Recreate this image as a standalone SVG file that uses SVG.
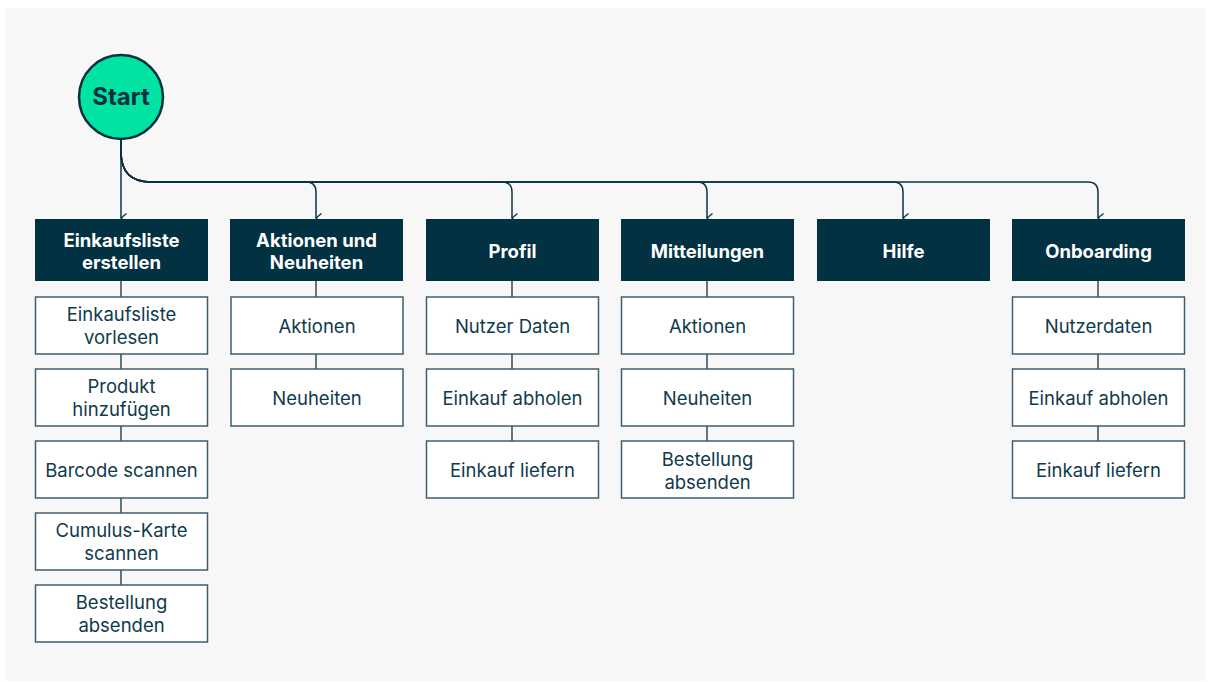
<svg xmlns="http://www.w3.org/2000/svg" width="1210" height="682" viewBox="0 0 1210 682">
  <defs>
    <style>
      .bg { fill: #ffffff; }
      .panel { fill: #f7f7f7; }
      .head rect { fill: #023142; }
      .head text { fill: #ffffff; font-family: Inter, "Liberation Sans", sans-serif; font-size: 18.5px; font-weight: 700; text-anchor: middle; }
      .item rect { fill: #ffffff; stroke: #3f5f70; stroke-width: 1.5; }
      .item text { fill: #0f3a4b; font-family: Inter, "Liberation Sans", sans-serif; font-size: 18.5px; font-weight: 400; text-anchor: middle; }
      .start circle { fill: #00e3a2; stroke: #05303f; stroke-width: 2.5; }
      .start text { fill: #05303f; font-family: Inter, "Liberation Sans", sans-serif; font-size: 24px; font-weight: 700; text-anchor: middle; }
      .edge { fill: none; stroke: #0b3445; stroke-width: 1.5; }
      .link { fill: none; stroke: #0b3445; stroke-width: 1.3; }
    </style>
    <marker id="arrow" markerUnits="userSpaceOnUse" markerWidth="12" markerHeight="10" refX="6" refY="8" orient="auto-start-reverse" viewBox="0 0 12 10">
      <path d="M1.5,2.5 L6,8 L10.5,2.5" fill="none" stroke="#0b3445" stroke-width="1.3"/>
    </marker>
  </defs>

  <rect class="bg" x="0" y="0" width="1210" height="682"/>
  <rect class="panel" x="5" y="8" width="1200" height="673"/>

  <!-- connectors: start to each section, and the chains inside each column -->
  <g id="connectors">
    <path class="edge" d="M121,139 V218" marker-end="url(#arrow)"/>
    <path class="edge" d="M121,139 V152 Q121,182 151,182 H306 Q316,182 316,192 V218" marker-end="url(#arrow)"/>
    <path class="edge" d="M121,139 V152 Q121,182 151,182 H502 Q512,182 512,192 V218" marker-end="url(#arrow)"/>
    <path class="edge" d="M121,139 V152 Q121,182 151,182 H697 Q707,182 707,192 V218" marker-end="url(#arrow)"/>
    <path class="edge" d="M121,139 V152 Q121,182 151,182 H893 Q903,182 903,192 V218" marker-end="url(#arrow)"/>
    <path class="edge" d="M121,139 V152 Q121,182 151,182 H1088 Q1098,182 1098,192 V218" marker-end="url(#arrow)"/>

    <path class="link" d="M121,281 V297 M121,354 V369 M121,426 V441 M121,498 V513 M121,570 V585"/>
    <path class="link" d="M316,281 V297 M316,354 V369"/>
    <path class="link" d="M512,281 V297 M512,354 V369 M512,426 V441"/>
    <path class="link" d="M707,281 V297 M707,354 V369 M707,426 V441"/>
    <path class="link" d="M1098,281 V297 M1098,354 V369 M1098,426 V441"/>
  </g>

  <g id="start" class="start">
    <circle cx="121" cy="97" r="42"/>
    <text x="121" y="105">Start</text>
  </g>

  <!-- section headers -->
  <g id="h-einkaufsliste" class="head">
    <rect x="35" y="219" width="173" height="62"/>
    <text x="121.5" y="247">Einkaufsliste</text>
    <text x="121.5" y="269">erstellen</text>
  </g>
  <g id="h-aktionen" class="head">
    <rect x="230" y="219" width="173" height="62"/>
    <text x="316.5" y="247">Aktionen und</text>
    <text x="316.5" y="269">Neuheiten</text>
  </g>
  <g id="h-profil" class="head">
    <rect x="426" y="219" width="173" height="62"/>
    <text x="512.5" y="258">Profil</text>
  </g>
  <g id="h-mitteilungen" class="head">
    <rect x="621" y="219" width="173" height="62"/>
    <text x="707.5" y="258">Mitteilungen</text>
  </g>
  <g id="h-hilfe" class="head">
    <rect x="817" y="219" width="173" height="62"/>
    <text x="903.5" y="258">Hilfe</text>
  </g>
  <g id="h-onboarding" class="head">
    <rect x="1012" y="219" width="173" height="62"/>
    <text x="1098.5" y="258">Onboarding</text>
  </g>

  <!-- column 1 -->
  <g id="e-vorlesen" class="item">
    <rect x="35.5" y="297" width="172" height="57"/>
    <text x="121.5" y="321">Einkaufsliste</text>
    <text x="121.5" y="344">vorlesen</text>
  </g>
  <g id="e-produkt" class="item">
    <rect x="35.5" y="369" width="172" height="57"/>
    <text x="121.5" y="393">Produkt</text>
    <text x="121.5" y="416">hinzufügen</text>
  </g>
  <g id="e-barcode" class="item">
    <rect x="35.5" y="441" width="172" height="57"/>
    <text x="121.5" y="477">Barcode scannen</text>
  </g>
  <g id="e-cumulus" class="item">
    <rect x="35.5" y="513" width="172" height="57"/>
    <text x="121.5" y="537">Cumulus-Karte</text>
    <text x="121.5" y="560">scannen</text>
  </g>
  <g id="e-bestellung" class="item">
    <rect x="35.5" y="585" width="172" height="57"/>
    <text x="121.5" y="609">Bestellung</text>
    <text x="121.5" y="632">absenden</text>
  </g>

  <!-- column 2 -->
  <g id="a-aktionen" class="item">
    <rect x="231" y="297" width="172" height="57"/>
    <text x="317" y="333">Aktionen</text>
  </g>
  <g id="a-neuheiten" class="item">
    <rect x="231" y="369" width="172" height="57"/>
    <text x="317" y="405">Neuheiten</text>
  </g>

  <!-- column 3 -->
  <g id="p-daten" class="item">
    <rect x="426.5" y="297" width="172" height="57"/>
    <text x="512.5" y="333">Nutzer Daten</text>
  </g>
  <g id="p-abholen" class="item">
    <rect x="426.5" y="369" width="172" height="57"/>
    <text x="512.5" y="405">Einkauf abholen</text>
  </g>
  <g id="p-liefern" class="item">
    <rect x="426.5" y="441" width="172" height="57"/>
    <text x="512.5" y="477">Einkauf liefern</text>
  </g>

  <!-- column 4 -->
  <g id="m-aktionen" class="item">
    <rect x="621.5" y="297" width="172" height="57"/>
    <text x="707.5" y="333">Aktionen</text>
  </g>
  <g id="m-neuheiten" class="item">
    <rect x="621.5" y="369" width="172" height="57"/>
    <text x="707.5" y="405">Neuheiten</text>
  </g>
  <g id="m-bestellung" class="item">
    <rect x="621.5" y="441" width="172" height="57"/>
    <text x="707.5" y="466">Bestellung</text>
    <text x="707.5" y="489">absenden</text>
  </g>

  <!-- column 6 -->
  <g id="o-nutzerdaten" class="item">
    <rect x="1012.5" y="297" width="172" height="57"/>
    <text x="1098.5" y="333">Nutzerdaten</text>
  </g>
  <g id="o-abholen" class="item">
    <rect x="1012.5" y="369" width="172" height="57"/>
    <text x="1098.5" y="405">Einkauf abholen</text>
  </g>
  <g id="o-liefern" class="item">
    <rect x="1012.5" y="441" width="172" height="57"/>
    <text x="1098.5" y="477">Einkauf liefern</text>
  </g>
</svg>
